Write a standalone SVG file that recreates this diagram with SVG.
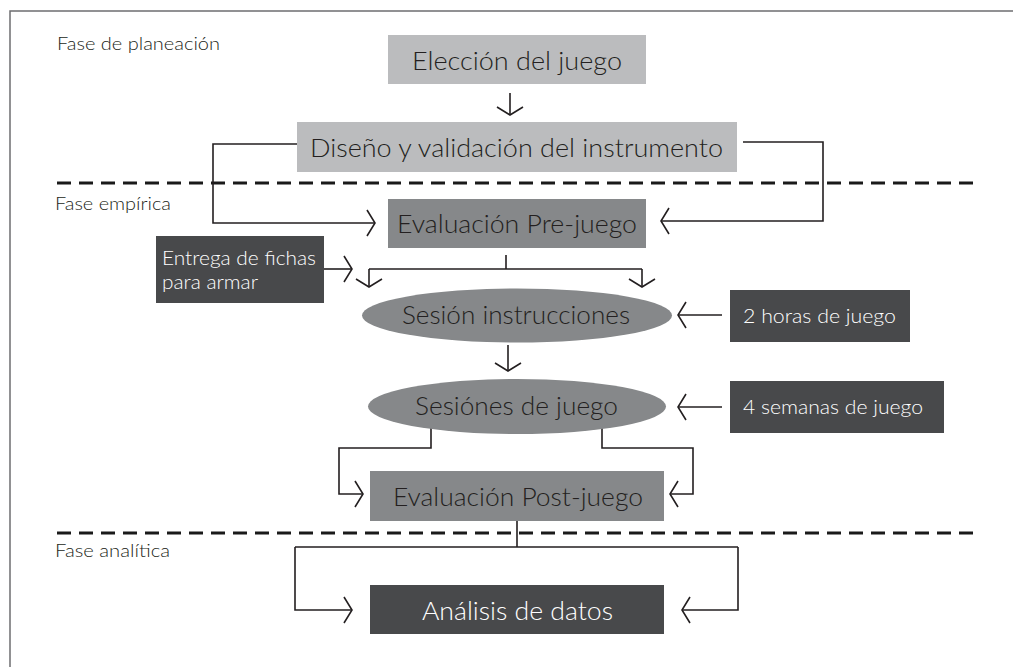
<svg xmlns="http://www.w3.org/2000/svg" width="1013" height="667" viewBox="0 0 1013 667">
<style>
.frame{fill:none;stroke:#6d6e70;stroke-width:1.5}
.dash{stroke:#1a1a1a;stroke-width:3;stroke-dasharray:14 8;fill:none}
.c{fill:none;stroke:#231f20;stroke-width:1.6}
.light{fill:#bbbcbe}
.mid{fill:#86888a}
.dark{fill:#48494b}
.t{font-family:Lato,"Open Sans",sans-serif;font-weight:300;fill:#231f20}
.big{font-size:25.5px}
.small{font-size:18px}
.w{fill:#ffffff}
</style>
<defs>
<marker id="ah" markerUnits="userSpaceOnUse" markerWidth="20" markerHeight="30" viewBox="-10 -15 12 30" refX="0" refY="0" orient="auto">
<path d="M-8,-13 L0,0 L-8,13" fill="none" stroke="#231f20" stroke-width="1.6"/>
</marker>
</defs>
<rect width="1013" height="667" fill="#ffffff"/>
<path class="frame" d="M1013,11 H10 V667"/>
<g id="phases">
<path class="dash" d="M57,183 H975"/>
<path class="dash" d="M57,533 H975"/>
<text class="t small" x="57" y="50" textLength="163" lengthAdjust="spacingAndGlyphs">Fase de planeación</text>
<text class="t small" x="55" y="210" textLength="116" lengthAdjust="spacingAndGlyphs">Fase empírica</text>
<text class="t small" x="55" y="557" textLength="115" lengthAdjust="spacingAndGlyphs">Fase analítica</text>
</g>
<g id="connectors">
<path class="c" d="M510,93 V115" marker-end="url(#ah)"/>
<path class="c" d="M297,144 H213 V223 H375" marker-end="url(#ah)"/>
<path class="c" d="M743,142 H823 V221 H661" marker-end="url(#ah)"/>
<path class="c" d="M506,255 V269 M369,269 H642"/>
<path class="c" d="M369,269 V287" marker-end="url(#ah)"/>
<path class="c" d="M642,269 V287" marker-end="url(#ah)"/>
<path class="c" d="M324,269 H352" marker-end="url(#ah)"/>
<path class="c" d="M722,315 H678" marker-end="url(#ah)"/>
<path class="c" d="M722,407 H678" marker-end="url(#ah)"/>
<path class="c" d="M508,345 V371" marker-end="url(#ah)"/>
<path class="c" d="M431,428 V448 H339 V494 H363" marker-end="url(#ah)"/>
<path class="c" d="M602,428 V448 H693 V494 H670" marker-end="url(#ah)"/>
<path class="c" d="M517,521 V547 M295,547 H738"/>
<path class="c" d="M295,547 V610 H352" marker-end="url(#ah)"/>
<path class="c" d="M738,547 V610 H682" marker-end="url(#ah)"/>
</g>
<g id="eleccion">
<rect class="light" x="388" y="35" width="258" height="49"/>
<text class="t big" x="412" y="70" textLength="210" lengthAdjust="spacingAndGlyphs">Elección del juego</text>
</g>
<g id="diseno">
<rect class="light" x="297" y="122" width="440" height="50"/>
<text class="t big" x="310" y="157" textLength="413" lengthAdjust="spacingAndGlyphs">Diseño y validación del instrumento</text>
</g>
<g id="pre">
<rect class="mid" x="388" y="199" width="258" height="49"/>
<text class="t big" x="397" y="233" textLength="240" lengthAdjust="spacingAndGlyphs">Evaluación Pre-juego</text>
</g>
<g id="fichas">
<rect class="dark" x="156" y="236" width="168" height="67"/>
<text class="t w" font-size="19.5" x="162" y="265" textLength="154" lengthAdjust="spacingAndGlyphs">Entrega de fichas</text>
<text class="t w" font-size="19.5" x="162" y="289" textLength="96" lengthAdjust="spacingAndGlyphs">para armar</text>
</g>
<g id="instrucciones">
<ellipse class="mid" cx="517" cy="315.5" rx="155" ry="27"/>
<text class="t big" x="402" y="324" textLength="228" lengthAdjust="spacingAndGlyphs">Sesión instrucciones</text>
</g>
<g id="horas">
<rect class="dark" x="730" y="290" width="180" height="52"/>
<text class="t w" font-size="20.5" x="743" y="323" textLength="153" lengthAdjust="spacingAndGlyphs">2 horas de juego</text>
</g>
<g id="sesiones">
<ellipse class="mid" cx="517" cy="406.5" rx="149" ry="27.5"/>
<text class="t big" x="415" y="415" textLength="203" lengthAdjust="spacingAndGlyphs">Sesiónes de juego</text>
</g>
<g id="semanas">
<rect class="dark" x="730" y="381" width="214" height="52"/>
<text class="t w" font-size="20.5" x="743" y="414" textLength="180" lengthAdjust="spacingAndGlyphs">4 semanas de juego</text>
</g>
<g id="post">
<rect class="mid" x="370" y="471" width="294" height="50"/>
<text class="t big" x="393" y="506" textLength="250" lengthAdjust="spacingAndGlyphs">Evaluación Post-juego</text>
</g>
<g id="analisis">
<rect class="dark" x="370" y="585" width="294" height="49"/>
<text class="t big w" x="422" y="620" textLength="191" lengthAdjust="spacingAndGlyphs">Análisis de datos</text>
</g>
</svg>
